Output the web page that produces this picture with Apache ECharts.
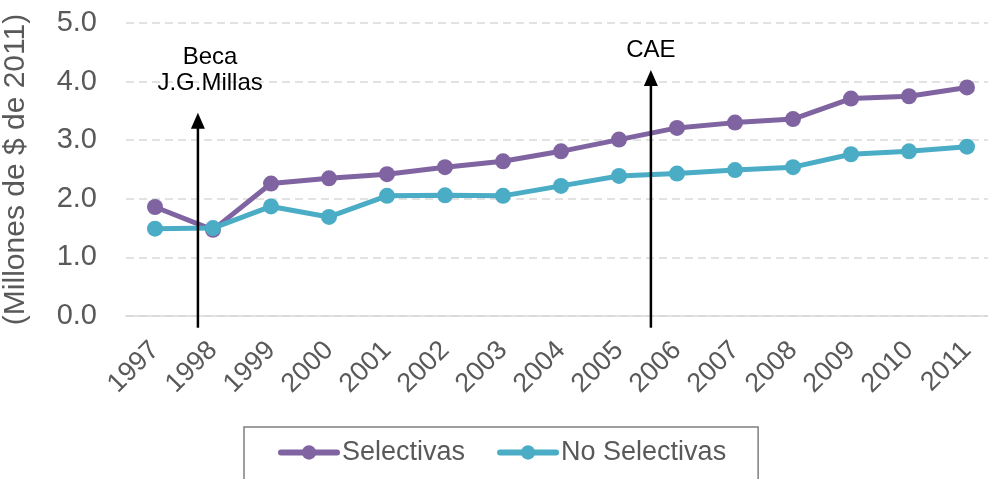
<!DOCTYPE html>
<html>
<head>
<meta charset="utf-8">
<script src="https://cdn.jsdelivr.net/npm/echarts@6/dist/echarts.min.js"></script>
<style>
  html, body { margin: 0; padding: 0; background: #fff; }
  #chart { width: 988px; height: 479px; }
</style>
</head>
<body>
<div id="chart"></div>
<script>
var years = ['1997','1998','1999','2000','2001','2002','2003','2004','2005','2006','2007','2008','2009','2010','2011'];
var selectivas = [1.86, 1.47, 2.26, 2.35, 2.42, 2.54, 2.64, 2.81, 3.01, 3.21, 3.30, 3.36, 3.71, 3.75, 3.90];
var noSelectivas = [1.49, 1.50, 1.87, 1.69, 2.05, 2.06, 2.05, 2.22, 2.39, 2.43, 2.49, 2.54, 2.76, 2.81, 2.89];
var yTicks = [0, 1, 2, 3, 4, 5];

var font = 'Liberation Sans';
var grey = '#595959';

// arrows (x on the 0..14 category index scale, y in axis units)
var arrowBeca = [[0.74, -0.2], [0.74, 3.33]];
var arrowCae = [[8.55, -0.2], [8.55, 4.06]];

function arrowData(pts) {
    return [
        { value: pts[0], symbol: 'none' },
        { value: pts[1], symbol: 'triangle' }
    ];
}

var myChart = echarts.init(document.getElementById('chart'));

var arrowStyle = {
    type: 'line', xAxisIndex: 1, clip: false, silent: true,
    symbolSize: [14, 16],
    itemStyle: { color: '#000' },
    lineStyle: { color: '#000', width: 2.5 },
    z: 5
};

var option = {
    animation: false,
    textStyle: { fontFamily: font },
    grid: { left: 126, top: 23, width: 870, height: 293, outerBoundsMode: 'none' },
    legend: {
        data: ['Selectivas', 'No Selectivas'],
        left: 244, top: 427,
        padding: [12, 32, 40, 34],
        itemWidth: 56, itemHeight: 18, itemGap: 32,
        borderColor: '#7f7f7f', borderWidth: 1.5,
        lineStyle: { width: 6, cap: 'round' },
        textStyle: { fontSize: 27, color: grey, fontFamily: font }
    },
    xAxis: [{
        type: 'category',
        data: years,
        boundaryGap: true,
        axisLine: { lineStyle: { color: '#d9d9d9', width: 1.5 } },
        axisTick: { show: false },
        axisLabel: { rotate: 45, fontSize: 27, color: grey, margin: 30, interval: 0 }
    }, {
        type: 'value', min: -0.5, max: 14.5, show: false
    }],
    yAxis: {
        type: 'value', min: yTicks[0], max: yTicks[yTicks.length - 1], interval: 1,
        name: '(Millones de $ de 2011)',
        nameLocation: 'middle', nameGap: 95,
        nameTextStyle: { fontSize: 30, color: grey },
        axisLine: { show: false },
        axisTick: { show: false },
        axisLabel: { fontSize: 29, color: grey, margin: 29, formatter: function (v) { return v.toFixed(1); } },
        splitLine: { lineStyle: { color: '#d9d9d9', type: [8, 5], width: 1.5 } }
    },
    series: [{
        name: 'Selectivas', type: 'line', data: selectivas,
        symbol: 'circle', symbolSize: 16,
        itemStyle: { color: '#8064A2' },
        lineStyle: { width: 5, color: '#8064A2' }
    }, {
        name: 'No Selectivas', type: 'line', data: noSelectivas,
        symbol: 'circle', symbolSize: 16,
        itemStyle: { color: '#4BACC6' },
        lineStyle: { width: 5, color: '#4BACC6' }
    },
    Object.assign({ name: 'beca', data: arrowData(arrowBeca) }, arrowStyle),
    Object.assign({
        name: 'cae', data: arrowData(arrowCae),
        markPoint: {
            silent: true, symbol: 'circle', symbolSize: 0,
            label: { show: true, position: 'inside', color: '#000', fontSize: 24, lineHeight: 26,
                fontFamily: font, formatter: function (p) { return p.name; } },
            data: [
                { name: 'Beca\nJ.G.Millas', coord: [0.95, 4.2] },
                { name: 'CAE', coord: [8.55, 4.54] }
            ]
        }
    }, arrowStyle)]
};

myChart.setOption(option);
</script>
</body>
</html>
